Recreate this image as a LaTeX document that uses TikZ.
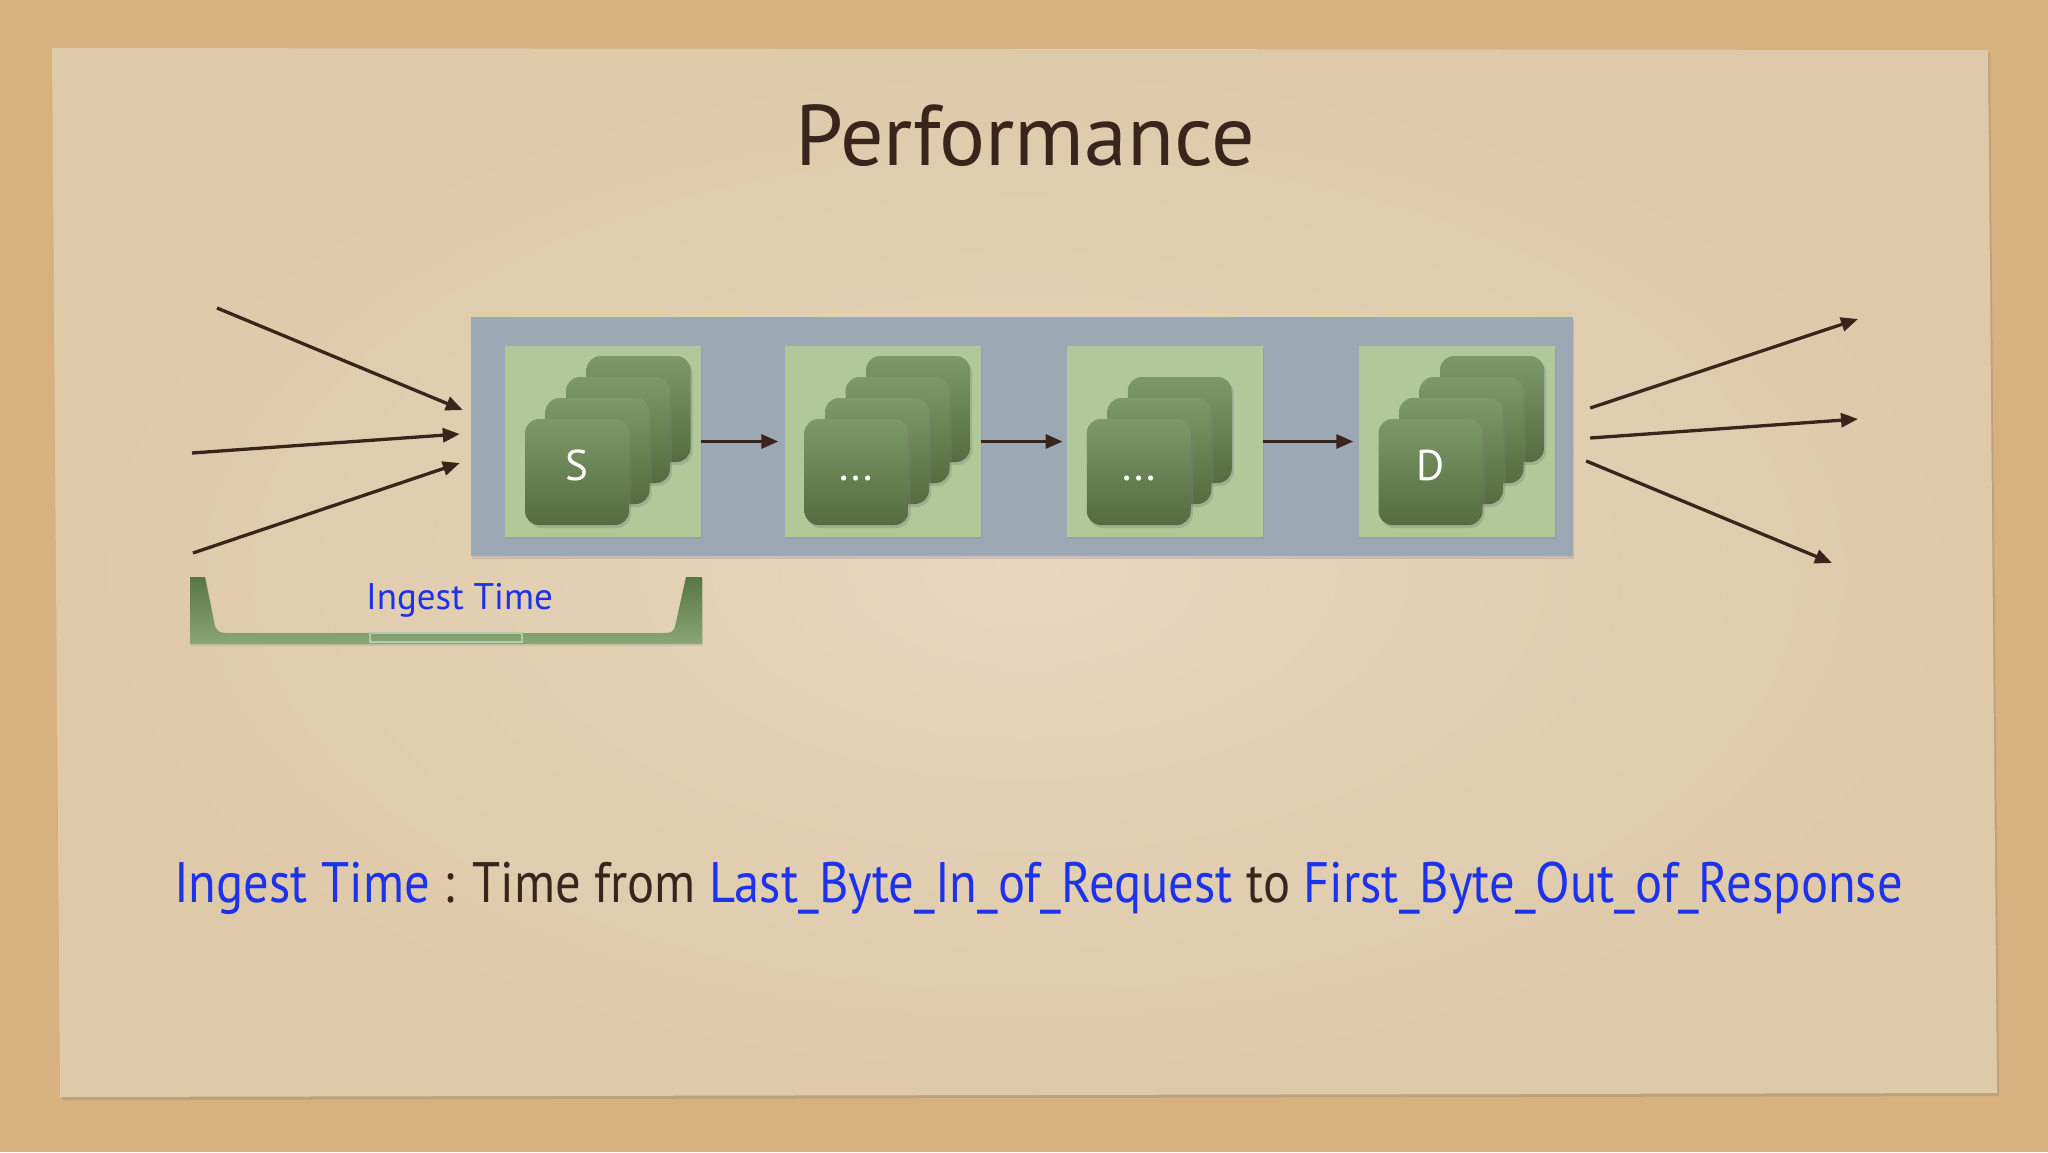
\documentclass[tikz,border=0pt]{standalone}
\usepackage{fontspec}
\setmainfont{PT Sans}
\usepackage{graphicx}
\usetikzlibrary{positioning,calc,arrows.meta,shadows}

\definecolor{cork}{RGB}{215,178,126}
\definecolor{paperlight}{RGB}{231,215,191}
\definecolor{paperdark}{RGB}{222,201,169}
\definecolor{stageblue}{RGB}{156,168,180}
\definecolor{panelgreen}{RGB}{177,201,152}
\definecolor{cardtop}{RGB}{126,153,104}
\definecolor{cardbottom}{RGB}{84,108,64}
\definecolor{brackettop}{RGB}{88,118,68}
\definecolor{bracketbottom}{RGB}{137,166,116}
\definecolor{inkbrown}{RGB}{58,36,28}
\definecolor{inkblue}{RGB}{28,50,235}

\newcommand\CardStack[3]{%
  \pgfmathtruncatemacro\lastCard{#2-1}%
  \foreach \k in {\lastCard,...,0}{%
    \node[card] (#1-c\k) at ($(#1)+(-26+20.5*\k,30.5-21*\k)$) {};
  }
  \node[cardtext] (#1-lbl) at ($(#1-c0)+(0,8)$) {#3}; % white label on front card
}

\tikzset{%
  >={Triangle[length=17pt,width=14pt]},
  flow/.style={->,draw=inkbrown,line width=3.3pt},
  stage/.style={fill=stageblue,minimum width=1102pt,minimum height=239pt,
    inner sep=0pt,drop shadow={shadow xshift=1pt,shadow yshift=-3pt,opacity=0.25}},
  panel/.style={fill=panelgreen,minimum width=196pt,minimum height=191pt,
    inner sep=0pt,drop shadow={shadow xshift=1pt,shadow yshift=-2pt,opacity=0.2}},
  card/.style={rounded corners=14pt,top color=cardtop,bottom color=cardbottom,
    minimum width=104pt,minimum height=106pt,inner sep=0pt,
    drop shadow={shadow xshift=2pt,shadow yshift=-3pt,opacity=0.35}},
  cardtext/.style={anchor=base,text=white,font=\fontsize{43}{43}\selectfont},
  heading/.style={anchor=base,text=inkbrown,font=\fontsize{86}{86}\selectfont},
  note/.style={anchor=base,text=inkbrown,font=\fontsize{57}{57}\selectfont},
  lbl/.style={anchor=base,text=inkblue,font=\fontsize{37}{37}\selectfont}
}

\begin{document}
\begin{tikzpicture}[x=1pt,y=-1pt]
%% backdrop
\useasboundingbox (0,0) rectangle (2048,1152);
\fill[cork] (0,0) rectangle (2048,1152);
\shade[inner color=paperlight,outer color=paperdark,
  drop shadow={shadow xshift=2pt,shadow yshift=-3pt,opacity=0.3}]
  (52,48) -- (1988,50) -- (1997,1093) -- (60,1097) -- cycle;

%% title
\node[heading] (ttl) at (1025,165) {Performance};

%% pipeline
\node[stage] (stg) at (1022,436.5) {};
\node[panel] (src) at (603,441.5) {};
\node[panel] (mid1) at (882.5,441.5) {};
\node[panel] (mid2) at (1164.75,441.5) {};
\node[panel] (dst) at (1456.5,441.5) {};

\CardStack{src}{4}{S}
\CardStack{mid1}{4}{...}
\CardStack{mid2}{3}{...}
\CardStack{dst}{4}{D}

\draw[flow,shorten >=6pt] (src) -- (mid1);
\draw[flow,shorten >=4pt] (mid1) -- (mid2);
\draw[flow,shorten >=5pt] (mid2) -- (dst);

%% incoming requests
\coordinate (in1) at (217,308);
\coordinate (in2) at (192,453);
\coordinate (in3) at (193,553);
\coordinate (stgin1) at ($(stg.west)+(-8,-26.5)$);
\coordinate (stgin2) at ($(stg.west)+(-11,-2.5)$);
\coordinate (stgin3) at ($(stg.west)+(-11,26.5)$);
\foreach \i in {1,2,3}
  \draw[flow] (in\i) -- (stgin\i);

%% outgoing responses
\coordinate (stgout1) at ($(stg.east)+(17,-28.5)$);
\coordinate (stgout2) at ($(stg.east)+(17,1.5)$);
\coordinate (stgout3) at ($(stg.east)+(13,24.5)$);
\coordinate (out1) at (1858,319);
\coordinate (out2) at (1858,419);
\coordinate (out3) at (1832,563);
\foreach \i in {1,2,3}
  \draw[flow] (stgout\i) -- (out\i);

%% ingest bracket
\shade[top color=brackettop,bottom color=bracketbottom,
  drop shadow={shadow xshift=1pt,shadow yshift=-2pt,opacity=0.2}]
  (190,577) -- (205,577) -- (214,622)
  .. controls (216,633) and (220,633) .. (232,633) -- (660,633)
  .. controls (672,633) and (674,633) .. (676,622) -- (686,577)
  -- (702,577) -- (702,644) -- (190,644) -- cycle;
\draw[bracketbottom!60!white,line width=1.2pt] (370,633) rectangle (522,642);
\node[lbl] (ingest) at (459.5,609) {Ingest Time};

%% definition
\node[note] (defn) at (1038.5,902) {\scalebox{0.888}[1]{%
  \textcolor{inkblue}{Ingest Time} : Time from
  \textcolor{inkblue}{Last\_Byte\_In\_of\_Request} to
  \textcolor{inkblue}{First\_Byte\_Out\_of\_Response}}};

\end{tikzpicture}
\end{document}
